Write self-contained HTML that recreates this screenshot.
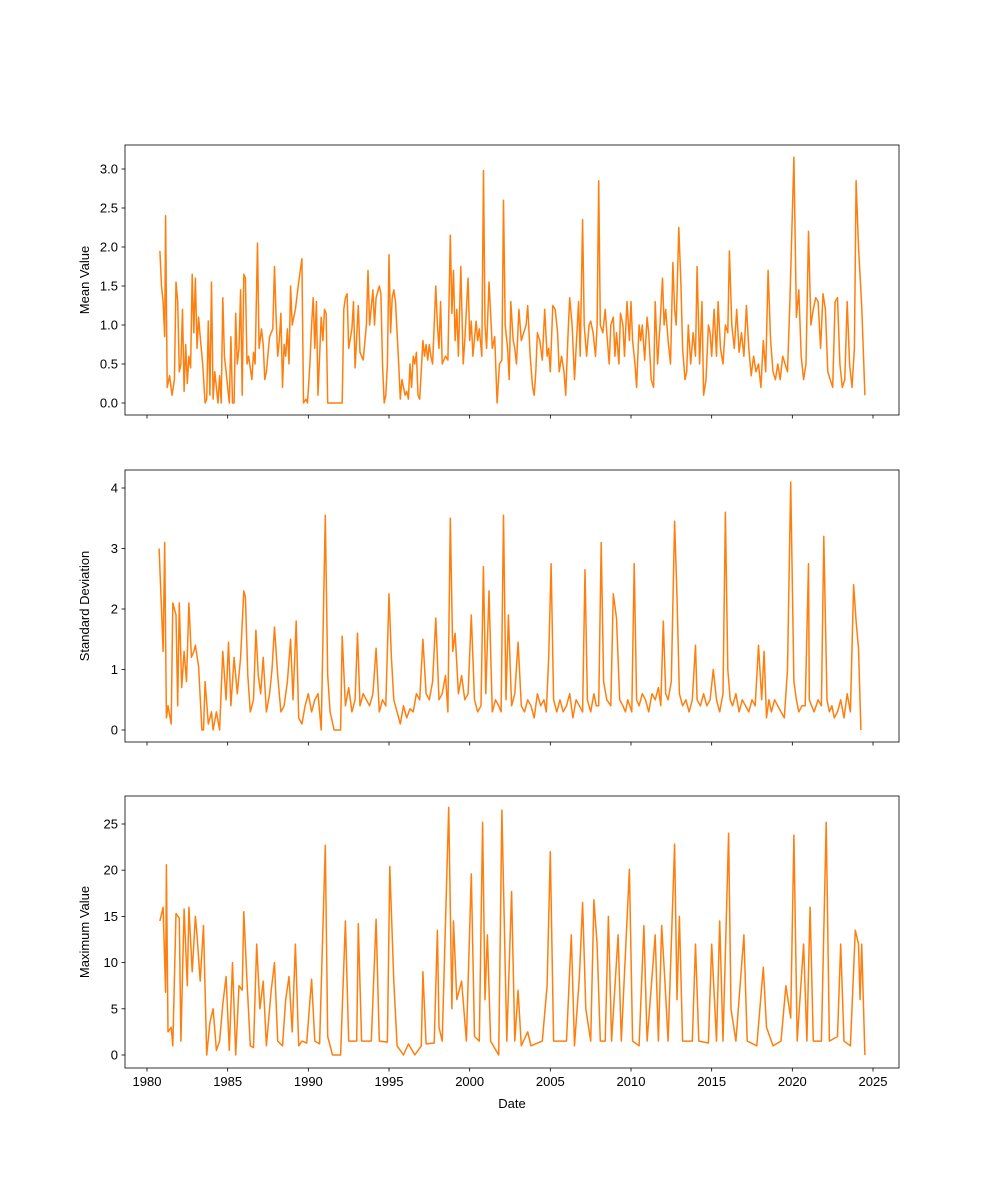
<!DOCTYPE html>
<html><head><meta charset="utf-8"><style>
body{margin:0;background:#fff;}
svg{display:block;font-family:"Liberation Sans","DejaVu Sans",sans-serif;}
</style></head><body>
<svg id="chart" width="1000" height="1200"></svg>
<script>
const meanDates=[
1980.8,1980.9,
1981.0,1981.1,1981.15,1981.25,1981.4,1981.55,1981.7,1981.8,1981.9,
1982.0,1982.1,1982.2,1982.3,1982.4,1982.5,1982.6,1982.7,1982.8,1982.9,
1983.0,1983.1,1983.2,1983.3,1983.45,1983.6,1983.7,1983.8,1983.9,
1984.0,1984.1,1984.2,1984.4,1984.5,1984.6,1984.7,1984.8,1984.9,
1985.1,1985.2,1985.3,1985.4,1985.5,1985.6,1985.7,1985.8,1985.9,
1986.0,1986.1,1986.2,1986.3,1986.5,1986.6,1986.7,1986.85,1986.95,
1987.1,1987.2,1987.3,1987.4,1987.6,1987.8,1987.9,
1988.0,1988.1,1988.2,1988.3,1988.4,1988.5,1988.6,1988.7,1988.8,1988.9,
1989.0,1989.2,1989.4,1989.6,1989.7,1989.85,1989.95,
1990.1,1990.2,1990.3,1990.4,1990.5,1990.6,1990.8,1990.9,
1991.0,1991.1,1991.2,1991.3,1991.4,1991.8,
1992.1,1992.2,1992.3,1992.4,1992.5,1992.7,1992.8,1992.9,
1993.1,1993.2,1993.4,1993.6,1993.7,1993.8,
1994.0,1994.1,1994.2,1994.4,1994.5,1994.6,1994.7,1994.8,1994.9,
1995.0,1995.1,1995.2,1995.3,1995.4,1995.6,1995.7,1995.8,
1996.0,1996.1,1996.2,1996.3,1996.4,1996.5,1996.6,1996.7,1996.8,1996.9,
1997.1,1997.2,1997.3,1997.4,1997.5,1997.6,1997.7,1997.9,
1998.0,1998.1,1998.2,1998.3,1998.5,1998.65,1998.8,1998.9,
1999.0,1999.1,1999.2,1999.3,1999.45,1999.6,1999.7,1999.8,1999.9,
2000.0,2000.1,2000.2,2000.4,2000.5,2000.6,2000.75,2000.86,2000.95,
2001.05,2001.2,2001.3,2001.4,2001.55,2001.7,2001.85,
2002.0,2002.1,2002.2,2002.35,2002.45,2002.55,2002.7,2002.8,2002.9,
2003.05,2003.2,2003.35,2003.5,2003.6,2003.75,2003.9,
2004.0,2004.1,2004.2,2004.35,2004.5,2004.65,2004.8,2004.9,
2005.0,2005.15,2005.3,2005.45,2005.55,2005.7,2005.85,2005.95,
2006.1,2006.2,2006.35,2006.5,2006.6,2006.75,2006.85,
2007.0,2007.1,2007.25,2007.4,2007.5,2007.65,2007.8,2007.9,
2008.0,2008.1,2008.25,2008.4,2008.5,2008.65,2008.75,2008.9,
2009.0,2009.1,2009.25,2009.35,2009.5,2009.6,2009.75,2009.9,
2010.0,2010.1,2010.25,2010.35,2010.5,2010.6,2010.7,2010.85,
2011.0,2011.1,2011.25,2011.4,2011.5,2011.65,2011.8,2011.95,
2012.05,2012.15,2012.3,2012.45,2012.6,2012.7,2012.8,2012.96,
2013.1,2013.2,2013.35,2013.45,2013.55,2013.7,2013.85,
2014.0,2014.1,2014.25,2014.4,2014.5,2014.65,2014.8,2014.9,
2015.0,2015.15,2015.3,2015.4,2015.55,2015.7,2015.85,
2016.0,2016.1,2016.25,2016.4,2016.55,2016.7,2016.85,
2017.0,2017.15,2017.3,2017.45,2017.6,2017.75,2017.9,
2018.05,2018.2,2018.35,2018.5,2018.65,2018.8,2018.95,
2019.1,2019.25,2019.4,2019.55,2019.7,2019.85,
2020.1,2020.25,2020.4,2020.55,2020.7,2020.85,
2021.0,2021.15,2021.3,2021.45,2021.6,2021.75,2021.9,
2022.05,2022.2,2022.35,2022.5,2022.65,2022.8,2022.95,
2023.1,2023.25,2023.4,2023.55,2023.7,2023.85,2023.95,
2024.1,2024.3,2024.5];
const meanValues=[
1.95,1.5,
1.3,0.85,2.4,0.2,0.35,0.1,0.3,1.55,1.3,
0.4,0.5,1.2,0.15,0.75,0.25,0.6,0.45,1.65,0.9,
1.6,0.7,1.1,0.85,0.5,0.0,0.05,1.05,0.1,
1.55,0.05,0.4,0.0,0.35,0.0,1.35,0.6,0.4,
0.0,0.85,0.0,0.0,1.15,0.5,0.7,1.45,0.1,
1.65,1.6,0.5,0.6,0.3,0.65,0.5,2.05,0.7,
0.95,0.75,0.3,0.4,0.85,0.95,1.75,
1.1,0.6,0.8,1.15,0.2,0.75,0.6,0.95,0.5,1.5,
1.0,1.2,1.55,1.85,0.0,0.05,0.0,
0.5,1.0,1.35,0.7,1.3,0.1,1.1,0.8,
1.2,1.15,0.0,0.0,0.0,0.0,
0.0,1.2,1.35,1.4,0.7,0.95,1.3,0.45,
1.25,0.65,0.55,1.0,1.7,1.0,
1.45,1.0,1.35,1.5,1.4,0.5,0.0,0.1,0.5,
1.9,0.9,1.35,1.45,1.3,0.5,0.05,0.3,
0.1,0.15,0.05,0.5,0.2,0.6,0.5,0.65,0.1,0.05,
0.8,0.6,0.75,0.55,0.75,0.6,0.5,1.5,
1.0,0.7,1.3,0.5,0.6,0.55,2.15,1.15,
1.7,0.8,1.2,0.6,1.75,0.5,0.8,1.2,1.6,
0.8,1.05,0.6,1.05,0.8,0.95,0.6,2.98,1.0,
0.7,1.55,1.15,0.7,0.85,0.0,0.5,
0.55,2.6,1.0,0.7,0.3,1.3,0.8,0.7,0.5,
1.2,0.8,0.9,1.0,1.25,0.6,0.2,
0.1,0.4,0.9,0.8,0.55,1.2,0.6,0.7,
0.4,1.25,1.2,0.9,0.4,0.6,0.4,0.1,
0.9,1.35,1.0,0.3,0.7,1.3,0.6,
2.35,1.0,0.6,1.0,1.05,0.9,0.6,1.0,
2.85,1.0,0.9,1.2,0.9,0.5,1.0,1.1,
0.6,0.9,0.5,1.15,1.0,0.6,1.3,0.8,
1.3,0.8,0.5,0.2,1.0,0.8,1.0,0.55,
1.1,0.9,0.3,0.2,1.3,0.5,1.0,1.6,
1.0,1.2,0.8,0.5,1.8,1.2,1.0,2.25,
1.5,0.7,0.3,0.4,1.0,0.5,0.9,
0.6,1.75,0.5,1.3,0.1,0.3,1.0,0.9,
0.6,1.2,0.6,1.3,0.7,0.5,1.0,
0.9,1.95,1.0,0.7,1.2,0.65,0.9,
0.6,1.25,0.7,0.35,0.6,0.4,0.5,
0.2,0.8,0.4,1.7,0.8,0.4,0.3,
0.5,0.3,0.6,0.5,0.4,1.3,
3.15,1.1,1.45,0.6,0.3,0.5,
2.2,1.0,1.2,1.35,1.3,0.7,1.4,
1.2,0.4,0.3,0.2,1.3,1.35,0.5,
0.2,0.3,1.3,0.5,0.2,0.7,2.85,
2.0,1.25,0.1];

const stdDates=[1980.75,1980.9,1981.0,1981.1,1981.2,1981.3,1981.5,1981.6,1981.8,1981.9,1982.0,1982.15,1982.3,1982.45,1982.6,1982.75,1982.9,1983.0,1983.2,1983.4,1983.5,1983.6,1983.8,1984.0,1984.1,1984.3,1984.5,1984.7,1984.9,1985.05,1985.2,1985.4,1985.6,1985.8,1986.0,1986.1,1986.25,1986.4,1986.6,1986.75,1986.9,1987.05,1987.2,1987.4,1987.6,1987.75,1987.9,1988.1,1988.3,1988.5,1988.7,1988.9,1989.05,1989.25,1989.4,1989.6,1989.8,1990.0,1990.2,1990.4,1990.6,1990.8,1991.05,1991.2,1991.35,1991.6,1992.0,1992.1,1992.3,1992.5,1992.7,1992.9,1993.05,1993.2,1993.4,1993.6,1993.8,1994.0,1994.2,1994.4,1994.6,1994.8,1995.0,1995.15,1995.3,1995.5,1995.7,1995.9,1996.1,1996.3,1996.5,1996.7,1996.9,1997.1,1997.3,1997.5,1997.7,1997.9,1998.1,1998.3,1998.5,1998.65,1998.8,1998.95,1999.1,1999.3,1999.5,1999.7,1999.9,2000.1,2000.3,2000.5,2000.7,2000.85,2001.0,2001.2,2001.4,2001.6,2001.8,2001.95,2002.1,2002.25,2002.4,2002.6,2002.8,2003.0,2003.2,2003.4,2003.6,2003.8,2004.0,2004.2,2004.4,2004.6,2004.75,2004.9,2005.05,2005.2,2005.4,2005.6,2005.8,2006.0,2006.2,2006.4,2006.6,2006.8,2007.0,2007.15,2007.3,2007.5,2007.7,2007.85,2008.0,2008.15,2008.3,2008.5,2008.75,2008.9,2009.1,2009.3,2009.5,2009.65,2009.8,2010.05,2010.2,2010.35,2010.5,2010.7,2010.9,2011.1,2011.3,2011.5,2011.7,2011.85,2012.0,2012.15,2012.3,2012.5,2012.7,2012.85,2013.0,2013.2,2013.4,2013.6,2013.8,2014.0,2014.1,2014.3,2014.5,2014.7,2014.9,2015.1,2015.3,2015.5,2015.7,2015.85,2016.0,2016.15,2016.3,2016.5,2016.7,2016.9,2017.1,2017.3,2017.5,2017.7,2017.9,2018.1,2018.25,2018.4,2018.55,2018.7,2018.9,2019.1,2019.3,2019.5,2019.7,2019.9,2020.1,2020.25,2020.4,2020.6,2020.8,2021.0,2021.05,2021.35,2021.6,2021.8,2021.95,2022.15,2022.3,2022.45,2022.6,2022.8,2023.0,2023.2,2023.4,2023.6,2023.8,2023.95,2024.1,2024.25,2024.5];
const stdValues=[3.0,2.0,1.3,3.1,0.2,0.4,0.1,2.1,1.9,0.4,2.1,0.7,1.3,0.8,2.1,1.2,1.3,1.4,1.05,0.0,0.0,0.8,0.1,0.3,0.0,0.3,0.0,1.3,0.5,1.45,0.4,1.2,0.6,1.2,2.3,2.2,0.9,0.3,0.5,1.65,0.9,0.6,1.2,0.3,0.6,1.0,1.7,0.9,0.3,0.4,0.8,1.5,0.5,1.8,0.2,0.1,0.4,0.6,0.3,0.5,0.6,0.0,3.55,0.9,0.3,0.0,0.0,1.55,0.4,0.7,0.3,0.5,1.6,0.4,0.6,0.5,0.4,0.6,1.35,0.3,0.5,0.4,2.25,1.2,0.5,0.3,0.1,0.4,0.2,0.35,0.3,0.6,0.5,1.5,0.6,0.5,0.8,1.85,0.5,0.6,0.9,0.3,3.5,1.3,1.6,0.6,0.9,0.5,0.6,1.9,0.5,0.3,0.4,2.7,0.6,2.3,0.3,0.5,0.4,0.3,3.55,0.5,1.9,0.4,0.6,1.45,0.4,0.3,0.5,0.4,0.2,0.6,0.4,0.5,0.3,1.2,2.75,0.5,0.3,0.5,0.3,0.4,0.6,0.2,0.5,0.4,0.3,2.65,0.5,0.3,0.6,0.4,0.4,3.1,0.8,0.5,0.4,2.25,1.85,0.5,0.4,0.3,0.5,0.3,2.75,0.5,0.4,0.6,0.5,0.3,0.6,0.5,0.7,0.4,1.8,0.6,0.5,0.8,3.45,2.2,0.6,0.4,0.5,0.3,0.5,1.4,0.5,0.4,0.6,0.4,0.5,1.0,0.5,0.3,0.6,3.6,1.0,0.5,0.4,0.6,0.3,0.5,0.4,0.3,0.5,0.4,1.4,0.5,1.3,0.2,0.5,0.3,0.5,0.4,0.3,0.2,1.0,4.1,0.8,0.5,0.3,0.4,0.4,2.75,0.5,0.3,0.5,0.4,3.2,0.5,0.3,0.4,0.2,0.3,0.5,0.2,0.6,0.3,2.4,1.8,1.35,0.0];

const maxDates=[1980.8,1981.0,1981.15,1981.2,1981.3,1981.5,1981.6,1981.8,1982.0,1982.1,1982.3,1982.5,1982.6,1982.8,1983.0,1983.1,1983.3,1983.5,1983.6,1983.7,1983.9,1984.1,1984.3,1984.5,1984.7,1984.9,1985.1,1985.3,1985.5,1985.7,1985.9,1986.0,1986.2,1986.4,1986.6,1986.8,1987.0,1987.2,1987.4,1987.7,1987.9,1988.1,1988.4,1988.6,1988.8,1989.0,1989.2,1989.4,1989.6,1989.9,1990.2,1990.4,1990.7,1991.05,1991.2,1991.5,1992.0,1992.3,1992.5,1993.0,1993.1,1993.3,1993.9,1994.2,1994.4,1994.9,1995.05,1995.3,1995.5,1995.9,1996.2,1996.6,1997.0,1997.1,1997.3,1997.8,1998.0,1998.1,1998.3,1998.7,1998.9,1999.0,1999.2,1999.5,1999.8,2000.1,2000.3,2000.6,2000.8,2000.95,2001.1,2001.3,2001.8,2002.0,2002.3,2002.6,2002.8,2003.0,2003.2,2003.6,2003.8,2004.5,2004.8,2005.0,2005.2,2006.0,2006.3,2006.5,2006.8,2007.0,2007.2,2007.5,2007.7,2007.9,2008.1,2008.4,2008.6,2008.8,2009.2,2009.4,2009.9,2010.1,2010.5,2010.8,2011.0,2011.5,2011.7,2011.9,2012.1,2012.3,2012.7,2012.85,2013.0,2013.2,2013.8,2014.0,2014.2,2014.8,2015.0,2015.3,2015.5,2015.7,2016.05,2016.2,2016.5,2017.0,2017.2,2017.8,2018.2,2018.4,2018.8,2019.3,2019.6,2019.9,2020.1,2020.3,2020.7,2020.9,2021.0,2021.1,2021.3,2021.8,2022.1,2022.3,2022.8,2023.0,2023.2,2023.6,2023.9,2024.1,2024.2,2024.3,2024.5];
const maxValues=[14.5,16,6.8,20.6,2.5,3,1,15.3,14.8,1.5,15.8,7.5,16,9,15,13,8,14,7,0,3.5,5,0.5,1.5,5.5,8.5,0.5,10,0,7.5,7,15.5,8,1,0.8,12,5,8,1,7,10,1.5,1,6,8.5,2.5,12,1,1.5,1.3,8.2,1.5,1.2,22.7,2,0,0,14.5,1.5,1.5,14.2,1.5,1.5,14.7,1.5,1.4,20.4,8,1,0,1.2,0,1,9,1.2,1.3,13.5,3,1.5,26.8,5,14.5,6,8,1.5,19.6,2,1.5,25.2,6,13,1.5,0,26.5,1.5,17.7,1.5,7,1,2.5,1,1.5,7.5,22,1.5,1.5,13,1,8.5,16.5,5,1.5,16.8,12,1.5,1.5,15,1.5,13,1.5,20.1,1.5,1,14,1.5,13,1.5,14,8,1.5,22.8,6,15,1.5,1.5,12,1.5,1.3,12,1.5,14.5,1.5,24,5,1.5,13,1.5,1,9.5,3,1,1.5,7.5,4,23.8,1.5,12,1.5,9,16,1.5,1.5,25.2,1.5,2,12,1.5,1,13.5,12,6,12,0];

const xTicks=[1980,1985,1990,1995,2000,2005,2010,2015,2020,2025];
const meanTicks=[0.0,0.5,1.0,1.5,2.0,2.5,3.0];
const stdTicks=[0,1,2,3,4];
const maxTicks=[0,5,10,15,20,25];

const NS="http://www.w3.org/2000/svg";
const svg=document.getElementById('chart');
const L=125,R=899;
function xs(t){return 147+(t-1980)*(873-147)/45;}
function mk(tag,attrs,parent){const e=document.createElementNS(NS,tag);for(const k in attrs)e.setAttribute(k,attrs[k]);(parent||svg).appendChild(e);return e;}

const panels=[
 {name:'mean',top:145,bot:415,y0:0,y1:3.0,py0:403,py1:169,ticks:meanTicks,fmt:v=>v.toFixed(1),label:'Mean Value',d:meanDates,v:meanValues},
 {name:'std',top:470,bot:742,y0:0,y1:4,py0:730,py1:488,ticks:stdTicks,fmt:v=>String(v),label:'Standard Deviation',d:stdDates,v:stdValues},
 {name:'max',top:796,bot:1068,y0:0,y1:25,py0:1055,py1:824,ticks:maxTicks,fmt:v=>String(v),label:'Maximum Value',d:maxDates,v:maxValues}
];
panels.forEach((p,i)=>{
 const g=mk('g',{});
 
 
 const ys=v=>p.py0+(v-p.y0)*(p.py1-p.py0)/(p.y1-p.y0);
 let d='';
 const n=Math.min(p.d.length,p.v.length);
 for(let k=0;k<n;k++){d+=(k?'L':'M')+xs(p.d[k]).toFixed(1)+','+ys(p.v[k]).toFixed(1);}
 const line=mk('path',{d:d,fill:'none',stroke:'#ff7f0e','stroke-width':1.5,'stroke-linejoin':'round'},g);
 
 
 const frame=mk('rect',{x:L,y:p.top,width:R-L,height:p.bot-p.top,fill:'none',stroke:'#000','stroke-width':0.8},g);
 
 
 p.ticks.forEach(v=>{
  const y=ys(v);
  mk('line',{x1:L-3.5,x2:L,y1:y,y2:y,stroke:'#000','stroke-width':0.8},g);
  const tx=mk('text',{x:L-7,y:y+4.5,'text-anchor':'end','font-size':13,fill:'#000'},g);
  tx.textContent=p.fmt(v);
  
  
 });
 xTicks.forEach(t=>{
  const x=xs(t);
  mk('line',{x1:x,x2:x,y1:p.bot,y2:p.bot+3.5,stroke:'#000','stroke-width':0.8},g);
  if(i===2){
   const tx=mk('text',{x:x,y:p.bot+18,'text-anchor':'middle','font-size':13,fill:'#000'},g);
   tx.textContent=String(t);
   
   
  }
 });
 const cy=(p.top+p.bot)/2;
 const yl=mk('text',{x:0,y:0,transform:'translate(89,'+cy+') rotate(-90)','text-anchor':'middle','font-size':13,fill:'#000'},g);
 yl.textContent=p.label;
 
 
});
const xl=mk('text',{x:512,y:1108,'text-anchor':'middle','font-size':13,fill:'#000'});
xl.textContent='Date';


</script>
</body></html>
